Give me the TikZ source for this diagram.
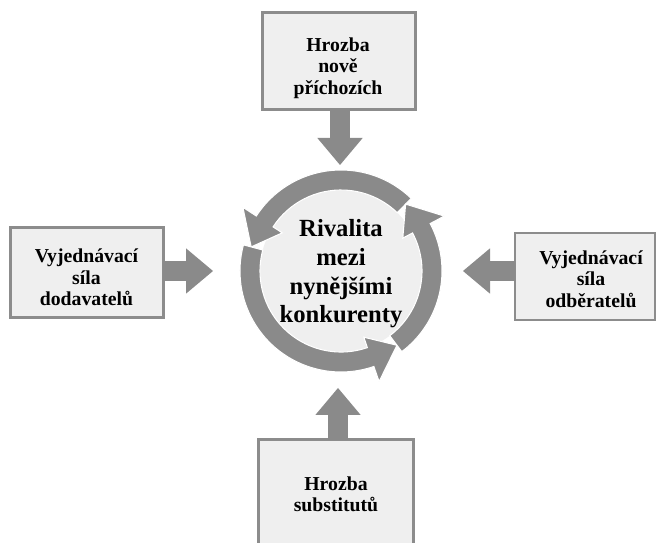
\documentclass[tikz,border=0pt]{standalone}
\usepackage{fontspec}
\setmainfont{Liberation Serif}
\usetikzlibrary{arrows.meta}
\definecolor{ringgray}{HTML}{8A8A8A}
\definecolor{boxfill}{HTML}{EFEFEF}
\definecolor{boxline}{HTML}{8C8C8C}
\newcommand\ringarrow[2]{%
  \fill[ringgray, draw=white, line width=0.8pt]
    (#1:75.75pt) arc[start angle=#1, end angle=#2, radius=75.75pt]
    -- (#2:87.75pt) -- ({#2+18}:69.75pt) -- (#2:52.5pt) -- (#2:60.75pt)
    arc[start angle=#2, end angle=#1, radius=60.75pt] -- cycle;}
\begin{document}
\begin{tikzpicture}[x=0.75pt, y=0.75pt,
  forcebox/.style={draw=boxline, fill=boxfill, line width=2.25pt, inner sep=0pt, outer sep=0pt},
  boxtext/.style={font=\bfseries\fontsize{14.8pt}{16pt}\selectfont, align=center, text=black},
  bigarrow/.style={draw=ringgray, line width=15pt, -{Triangle[length=20.25pt, width=34pt, line width=0pt]}}]
\useasboundingbox (0,0) rectangle (656,542);
% boxes
\node[forcebox, minimum width=114.75pt, minimum height=72.75pt] (top) at (338.5,480.5) {};
\node[forcebox, minimum width=114.75pt, minimum height=67.5pt] (left) at (86.5,269) {};
\node[forcebox, line width=1pt, minimum width=105pt, minimum height=65.25pt] (right) at (585,265.5) {};
\node[forcebox, minimum width=116.25pt, minimum height=90pt] (bottom) at (335.5,42) {};
\node[boxtext] (toptext) at (338,474) {Hrozba\\nově\\příchozích};
\node[boxtext] (lefttext) at (86.5,264.5) {Vyjednávací\\síla\\dodavatelů};
\node[boxtext] (righttext) at (591,263) {Vyjednávací\\síla\\odběratelů};
\node[boxtext] (bottomtext) at (336,48) {Hrozba\\substitutů};
% ring
\begin{scope}[shift={(341,271)}]
  \fill[boxfill] (0,0) circle[radius=60.75pt];
  \ringarrow{46}{147}
  \ringarrow{165}{289}
  \ringarrow{-53}{28}
\end{scope}
\node[font=\bfseries\fontsize{18.5pt}{21.5pt}\selectfont, align=center] (center) at (341,268) {Rivalita\\mezi\\nynějšími\\konkurenty};
% arrows
\coordinate (tTip) at (340,377);
\coordinate (lTip) at (213,271);
\coordinate (rTip) at (463,271);
\coordinate (bTip) at (338,154);
\draw[bigarrow] (top.south -| tTip) -- (tTip);
\draw[bigarrow] (left.east |- lTip) -- (lTip);
\draw[bigarrow] (right.west |- rTip) -- (rTip);
\draw[bigarrow] (bottom.north -| bTip) -- (bTip);
\end{tikzpicture}
\end{document}
